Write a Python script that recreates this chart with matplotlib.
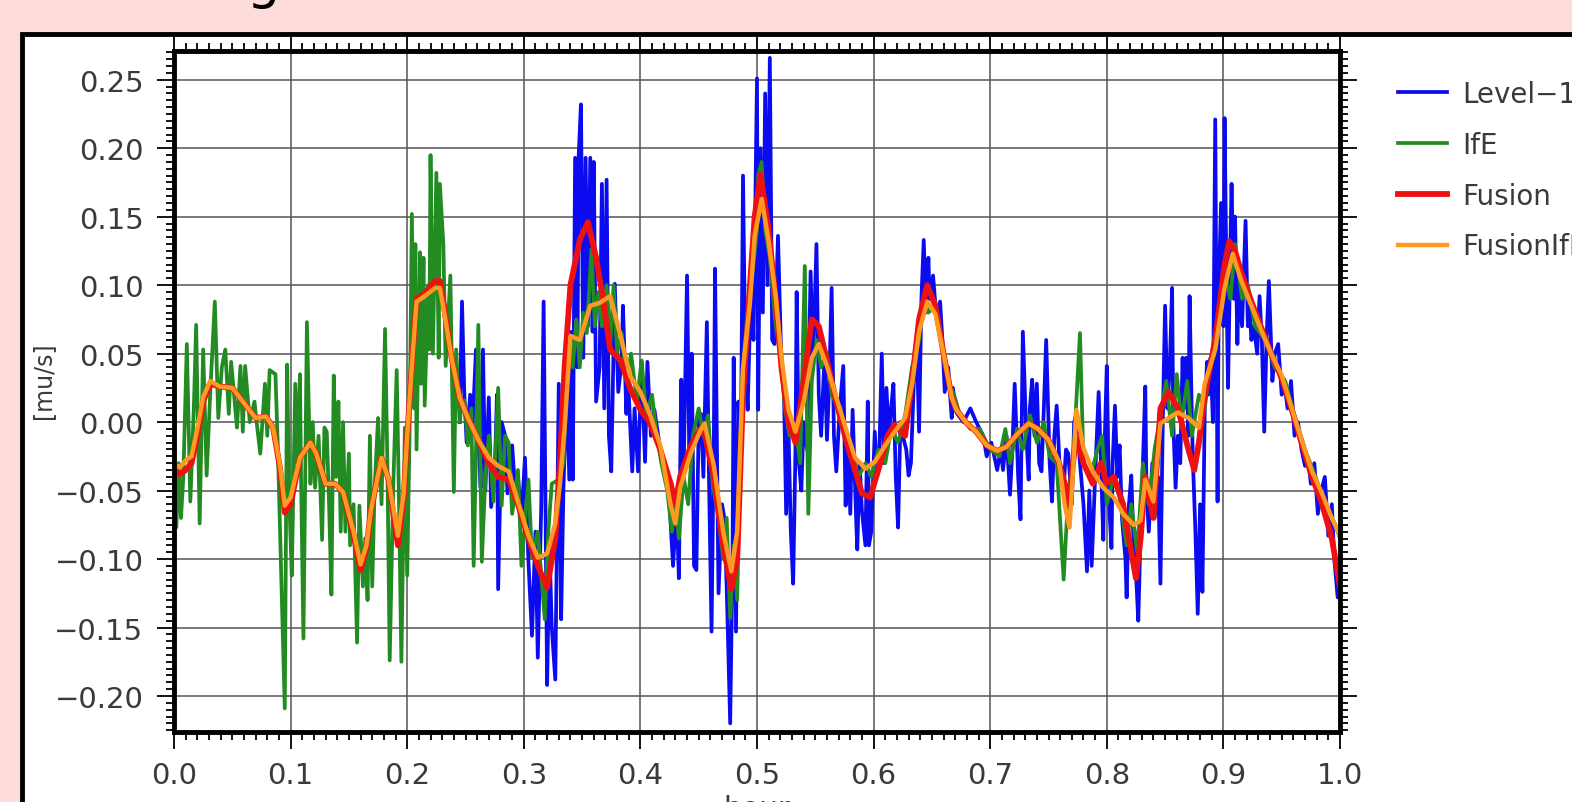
import matplotlib.pyplot as plt
from matplotlib.patches import Rectangle
from matplotlib.ticker import MultipleLocator, FuncFormatter

# IfE (green), noisy
ife_t = [0.000, 0.002, 0.004, 0.006, 0.008, 0.011, 0.014, 0.017, 0.019, 0.022, 0.025, 0.028, 0.031, 0.035,
         0.038, 0.041, 0.044, 0.047, 0.049, 0.054, 0.057, 0.059, 0.061, 0.065, 0.069, 0.071, 0.074, 0.078,
         0.080, 0.082, 0.087, 0.089, 0.091, 0.095, 0.097, 0.099, 0.101, 0.104, 0.106, 0.108, 0.109, 0.111,
         0.114, 0.117, 0.119, 0.121, 0.124, 0.127, 0.129, 0.131, 0.133, 0.135, 0.137, 0.139, 0.141, 0.143,
         0.145, 0.147, 0.150, 0.151, 0.154, 0.157, 0.159, 0.162, 0.164, 0.166, 0.168, 0.170, 0.172, 0.175,
         0.178, 0.181, 0.183, 0.185, 0.188, 0.191, 0.193, 0.195, 0.198, 0.200, 0.202, 0.204, 0.206, 0.207,
         0.208, 0.211, 0.212, 0.214, 0.215, 0.218, 0.219, 0.220, 0.222, 0.225, 0.227, 0.228, 0.231, 0.233,
         0.237, 0.240, 0.242, 0.245, 0.247, 0.249, 0.252, 0.255, 0.257, 0.259, 0.261, 0.264, 0.267, 0.270,
         0.274, 0.278, 0.281, 0.284, 0.287, 0.290, 0.295, 0.298, 0.304, 0.307, 0.312, 0.318, 0.321, 0.324,
         0.330, 0.334, 0.337, 0.340, 0.342, 0.345, 0.348, 0.351, 0.354, 0.358, 0.361, 0.364, 0.367, 0.371,
         0.374, 0.377, 0.380, 0.384, 0.388, 0.392, 0.397, 0.401, 0.405, 0.410, 0.414, 0.418, 0.423, 0.427,
         0.430, 0.433, 0.437, 0.441, 0.445, 0.450, 0.454, 0.458, 0.462, 0.467, 0.471, 0.474, 0.477, 0.480,
         0.483, 0.487, 0.491, 0.495, 0.500, 0.501, 0.504, 0.507, 0.511, 0.516, 0.520, 0.524, 0.528, 0.533,
         0.537, 0.541, 0.544, 0.547, 0.551, 0.555, 0.560, 0.564, 0.570, 0.575, 0.581, 0.587, 0.593, 0.598,
         0.604, 0.610, 0.615, 0.621, 0.627, 0.633, 0.639, 0.643, 0.647, 0.653, 0.658, 0.664, 0.669, 0.674,
         0.683, 0.691, 0.700, 0.708, 0.713, 0.717, 0.723, 0.728, 0.734, 0.740, 0.746, 0.751, 0.757, 0.763,
         0.767, 0.771, 0.777, 0.780, 0.786, 0.792, 0.796, 0.800, 0.806, 0.811, 0.817, 0.821, 0.826, 0.831,
         0.836, 0.841, 0.847, 0.851, 0.856, 0.860, 0.864, 0.869, 0.873, 0.879, 0.884, 0.890, 0.896, 0.901,
         0.906, 0.910, 0.916, 0.921, 0.927, 0.936, 0.944, 0.953, 0.961, 0.970, 0.979, 0.987, 0.996, 1.000]
ife_v = [-0.035, -0.077, -0.030, -0.070, -0.040, 0.057, -0.058, 0.010, 0.071, -0.074, 0.053, -0.039, 0.020, 0.088,
         0.003, 0.040, 0.053, 0.006, 0.044, -0.004, 0.041, -0.007, 0.041, 0.000, 0.015, -0.001, -0.023, 0.028,
         -0.010, 0.038, 0.035, -0.017, -0.080, -0.209, 0.042, -0.060, -0.112, 0.028, -0.030, 0.035, -0.042, -0.158,
         0.073, -0.045, 0.000, -0.048, -0.010, -0.086, -0.004, -0.007, -0.060, -0.126, 0.034, -0.040, 0.015, -0.080,
         0.000, -0.080, -0.023, -0.090, -0.060, -0.161, -0.061, -0.120, -0.085, -0.130, -0.010, -0.120, -0.050, 0.003,
         -0.060, 0.068, -0.030, -0.174, -0.048, 0.038, -0.060, -0.175, -0.004, -0.112, -0.010, 0.152, 0.010, 0.130,
         -0.020, 0.124, 0.028, 0.120, 0.012, 0.100, 0.053, 0.195, 0.050, 0.182, 0.047, 0.174, 0.130, 0.041,
         0.107, -0.051, 0.053, 0.000, 0.015, 0.016, -0.017, 0.010, -0.105, -0.020, 0.071, -0.102, -0.040, -0.010,
         -0.058, 0.025, -0.061, -0.010, -0.015, -0.067, -0.035, -0.105, -0.042, -0.099, -0.080, -0.144, -0.080, -0.045,
         -0.042, -0.030, 0.030, 0.060, 0.040, 0.075, 0.040, 0.080, 0.065, 0.126, 0.070, 0.095, 0.070, 0.100,
         0.055, 0.100, 0.050, 0.065, 0.030, 0.050, 0.015, 0.045, 0.005, 0.020, -0.010, -0.030, -0.050, -0.080,
         -0.060, -0.085, -0.040, -0.060, -0.010, 0.010, -0.010, 0.005, -0.045, -0.070, -0.100, -0.070, -0.143, -0.090,
         -0.130, 0.030, 0.070, 0.100, 0.140, 0.180, 0.190, 0.140, 0.120, 0.070, 0.050, 0.010, -0.010, -0.005,
         -0.030, 0.114, -0.067, 0.030, 0.060, 0.040, 0.050, 0.020, 0.010, -0.010, -0.020, -0.040, -0.030, -0.040,
         -0.020, -0.030, -0.005, -0.015, 0.005, 0.040, 0.060, 0.090, 0.080, 0.085, 0.060, 0.030, 0.020, 0.005,
         -0.005, -0.005, -0.020, -0.025, -0.005, -0.030, -0.005, -0.020, 0.005, -0.015, 0.000, -0.025, -0.030, -0.115,
         -0.050, -0.030, 0.065, -0.030, -0.040, -0.020, -0.010, -0.060, -0.040, -0.055, -0.090, -0.060, -0.095, -0.030,
         -0.060, -0.020, 0.010, 0.030, -0.010, 0.035, 0.000, 0.030, -0.010, 0.020, 0.010, 0.050, 0.080, 0.110,
         0.090, 0.130, 0.090, 0.100, 0.070, 0.060, 0.040, 0.030, 0.005, -0.020, -0.040, -0.060, -0.075, -0.085]

# Level-1 (blue), noisy
lvl_t = [0.245, 0.247, 0.249, 0.251, 0.254, 0.256, 0.259, 0.261, 0.263, 0.265, 0.267, 0.270, 0.272, 0.275,
         0.277, 0.278, 0.281, 0.284, 0.286, 0.290, 0.293, 0.295, 0.298, 0.301, 0.304, 0.307, 0.310, 0.312,
         0.315, 0.317, 0.320, 0.322, 0.324, 0.327, 0.330, 0.332, 0.334, 0.337, 0.339, 0.341, 0.342, 0.344,
         0.346, 0.347, 0.349, 0.351, 0.353, 0.355, 0.357, 0.359, 0.360, 0.362, 0.365, 0.367, 0.369, 0.371,
         0.373, 0.375, 0.378, 0.381, 0.384, 0.385, 0.388, 0.389, 0.393, 0.395, 0.398, 0.401, 0.404, 0.406,
         0.409, 0.412, 0.417, 0.422, 0.425, 0.428, 0.431, 0.433, 0.435, 0.437, 0.440, 0.442, 0.444, 0.446,
         0.448, 0.450, 0.452, 0.454, 0.457, 0.459, 0.461, 0.463, 0.464, 0.467, 0.470, 0.472, 0.474, 0.477,
         0.479, 0.480, 0.482, 0.484, 0.486, 0.488, 0.490, 0.492, 0.495, 0.497, 0.500, 0.501, 0.503, 0.505,
         0.507, 0.509, 0.511, 0.513, 0.515, 0.516, 0.518, 0.521, 0.523, 0.525, 0.527, 0.529, 0.531, 0.533,
         0.534, 0.536, 0.538, 0.540, 0.543, 0.546, 0.548, 0.551, 0.553, 0.555, 0.558, 0.560, 0.562, 0.564,
         0.566, 0.568, 0.571, 0.574, 0.576, 0.578, 0.580, 0.582, 0.585, 0.586, 0.588, 0.590, 0.593, 0.595,
         0.596, 0.598, 0.601, 0.603, 0.605, 0.607, 0.609, 0.611, 0.613, 0.615, 0.617, 0.619, 0.621, 0.623,
         0.625, 0.628, 0.630, 0.632, 0.635, 0.637, 0.639, 0.641, 0.643, 0.645, 0.647, 0.648, 0.651, 0.654,
         0.657, 0.659, 0.661, 0.664, 0.667, 0.668, 0.671, 0.677, 0.683, 0.688, 0.694, 0.697, 0.701, 0.706,
         0.709, 0.711, 0.714, 0.717, 0.719, 0.721, 0.724, 0.726, 0.727, 0.728, 0.731, 0.733, 0.734, 0.736,
         0.738, 0.740, 0.742, 0.744, 0.746, 0.748, 0.751, 0.753, 0.755, 0.757, 0.760, 0.763, 0.765, 0.767,
         0.770, 0.772, 0.774, 0.777, 0.780, 0.783, 0.785, 0.787, 0.790, 0.793, 0.795, 0.797, 0.798, 0.800,
         0.802, 0.804, 0.805, 0.807, 0.809, 0.811, 0.813, 0.816, 0.817, 0.819, 0.821, 0.823, 0.825, 0.827,
         0.829, 0.831, 0.833, 0.834, 0.836, 0.839, 0.841, 0.844, 0.846, 0.848, 0.850, 0.852, 0.854, 0.856,
         0.857, 0.859, 0.861, 0.863, 0.865, 0.866, 0.868, 0.870, 0.871, 0.873, 0.874, 0.876, 0.878, 0.880,
         0.882, 0.884, 0.886, 0.887, 0.889, 0.891, 0.893, 0.895, 0.896, 0.898, 0.900, 0.901, 0.903, 0.904,
         0.906, 0.907, 0.909, 0.910, 0.912, 0.913, 0.916, 0.919, 0.921, 0.922, 0.924, 0.926, 0.929, 0.931,
         0.933, 0.935, 0.937, 0.939, 0.942, 0.944, 0.947, 0.950, 0.952, 0.955, 0.958, 0.961, 0.964, 0.967,
         0.970, 0.973, 0.975, 0.978, 0.981, 0.984, 0.987, 0.990, 0.993, 0.995, 0.998, 1.000]
lvl_v = [0.000, 0.088, 0.020, -0.015, 0.020, -0.004, 0.053, -0.010, -0.048, 0.053, -0.050, 0.018, -0.062, -0.040,
         0.020, -0.122, 0.000, -0.010, -0.052, -0.017, -0.055, -0.040, -0.070, -0.026, -0.102, -0.156, -0.080, -0.172,
         -0.060, 0.088, -0.192, -0.090, -0.150, -0.188, 0.028, -0.144, -0.048, 0.028, -0.042, 0.066, -0.042, 0.193,
         0.040, 0.193, 0.232, 0.047, 0.193, 0.070, 0.193, 0.066, 0.190, 0.015, 0.040, 0.174, 0.010, 0.177,
         -0.010, -0.036, 0.101, 0.022, 0.045, 0.085, 0.006, 0.040, -0.036, 0.010, -0.036, 0.044, -0.029, 0.044,
         -0.010, 0.009, -0.020, -0.036, -0.060, -0.105, -0.060, -0.114, 0.031, -0.040, 0.107, -0.030, 0.050, -0.105,
         -0.108, 0.000, 0.006, -0.040, 0.073, -0.050, -0.153, -0.010, 0.112, -0.125, -0.060, -0.070, -0.120, -0.220,
         -0.100, 0.047, -0.153, 0.015, -0.040, 0.180, 0.040, 0.009, 0.108, 0.060, 0.251, 0.009, 0.200, 0.080,
         0.240, 0.100, 0.266, 0.060, 0.057, 0.080, 0.136, 0.040, 0.030, -0.067, -0.005, -0.080, -0.118, -0.020,
         0.095, -0.030, -0.050, 0.000, -0.020, 0.110, 0.040, 0.130, 0.020, -0.010, 0.050, -0.013, 0.030, 0.098,
         -0.010, -0.036, 0.010, 0.041, -0.061, -0.010, -0.067, 0.009, -0.070, -0.093, -0.030, -0.065, -0.090, 0.015,
         -0.090, -0.080, -0.007, -0.040, -0.020, 0.050, -0.030, 0.025, -0.010, 0.010, 0.028, -0.040, -0.077, 0.000,
         -0.010, -0.020, -0.039, -0.030, 0.040, 0.060, -0.007, 0.090, 0.133, 0.080, 0.120, 0.090, 0.107, 0.075,
         0.088, 0.060, 0.022, 0.040, 0.003, 0.025, 0.007, 0.000, 0.010, 0.000, -0.010, -0.025, -0.015, -0.035,
         -0.020, -0.035, -0.010, -0.053, -0.020, 0.028, -0.040, -0.071, 0.000, 0.066, -0.010, -0.042, 0.010, 0.031,
         -0.010, 0.028, -0.030, -0.036, 0.010, 0.060, -0.030, -0.058, -0.010, 0.012, -0.040, -0.048, -0.020, -0.023,
         -0.060, 0.000, 0.006, -0.030, -0.060, -0.109, -0.050, -0.105, -0.040, 0.022, -0.030, -0.086, -0.020, 0.041,
         -0.060, -0.092, -0.030, 0.012, -0.040, -0.017, -0.070, -0.100, -0.128, -0.060, -0.039, -0.090, -0.110, -0.145,
         -0.080, -0.030, 0.026, -0.050, -0.080, -0.030, -0.070, -0.040, -0.118, 0.000, 0.085, 0.010, 0.040, 0.098,
         0.000, -0.048, -0.010, -0.030, 0.047, 0.010, 0.047, -0.010, 0.092, 0.000, -0.032, -0.080, -0.140, -0.060,
         -0.124, 0.010, 0.044, 0.020, 0.047, 0.000, 0.221, -0.058, 0.100, 0.160, 0.070, 0.222, 0.080, 0.025,
         0.130, 0.174, 0.090, 0.150, 0.057, 0.100, 0.070, 0.147, 0.070, 0.090, 0.060, 0.070, 0.050, 0.092,
         0.060, -0.007, 0.060, 0.103, 0.030, 0.050, 0.057, 0.020, 0.031, 0.010, 0.030, -0.010, 0.000, -0.020,
         -0.032, -0.030, -0.045, -0.030, -0.067, -0.050, -0.040, -0.083, -0.060, -0.099, -0.128, -0.110]

# FusionIfE (orange), smooth
fie_t = [0.000, 0.005, 0.010, 0.015, 0.020, 0.025, 0.031, 0.039, 0.050, 0.059, 0.070, 0.079, 0.085, 0.091,
         0.095, 0.100, 0.108, 0.117, 0.122, 0.130, 0.138, 0.145, 0.154, 0.160, 0.165, 0.169, 0.178, 0.184,
         0.192, 0.197, 0.200, 0.204, 0.208, 0.215, 0.224, 0.228, 0.232, 0.238, 0.245, 0.252, 0.261, 0.270,
         0.278, 0.287, 0.295, 0.304, 0.312, 0.320, 0.327, 0.331, 0.335, 0.340, 0.348, 0.357, 0.365, 0.374,
         0.383, 0.391, 0.400, 0.408, 0.417, 0.426, 0.430, 0.434, 0.443, 0.451, 0.455, 0.463, 0.471, 0.478,
         0.483, 0.488, 0.494, 0.498, 0.504, 0.510, 0.516, 0.521, 0.527, 0.533, 0.540, 0.547, 0.553, 0.560,
         0.568, 0.577, 0.584, 0.593, 0.601, 0.610, 0.618, 0.627, 0.633, 0.639, 0.646, 0.653, 0.660, 0.667,
         0.671, 0.680, 0.688, 0.697, 0.706, 0.714, 0.723, 0.733, 0.741, 0.750, 0.759, 0.764, 0.768, 0.771,
         0.774, 0.780, 0.788, 0.797, 0.806, 0.814, 0.823, 0.829, 0.833, 0.840, 0.846, 0.853, 0.861, 0.870,
         0.879, 0.884, 0.893, 0.901, 0.908, 0.915, 0.924, 0.933, 0.941, 0.950, 0.959, 0.967, 0.976, 0.984,
         0.993, 1.000]
fie_v = [-0.031, -0.033, -0.028, -0.025, -0.005, 0.018, 0.030, 0.026, 0.025, 0.015, 0.003, 0.004, -0.004, -0.032,
         -0.061, -0.055, -0.026, -0.015, -0.023, -0.045, -0.045, -0.051, -0.080, -0.104, -0.090, -0.064, -0.026, -0.042,
         -0.083, -0.052, -0.010, 0.041, 0.088, 0.092, 0.098, 0.098, 0.079, 0.047, 0.018, 0.003, -0.013, -0.026,
         -0.032, -0.036, -0.058, -0.083, -0.099, -0.096, -0.074, -0.045, -0.004, 0.063, 0.060, 0.085, 0.087, 0.092,
         0.063, 0.034, 0.022, 0.006, -0.017, -0.061, -0.074, -0.048, -0.023, -0.007, -0.001, -0.032, -0.080, -0.109,
         -0.080, 0.039, 0.088, 0.136, 0.163, 0.132, 0.092, 0.047, 0.009, -0.007, 0.015, 0.047, 0.057, 0.041,
         0.018, -0.007, -0.026, -0.034, -0.029, -0.017, -0.007, 0.003, 0.028, 0.066, 0.088, 0.079, 0.050, 0.018,
         0.009, -0.001, -0.007, -0.017, -0.021, -0.018, -0.009, -0.001, -0.005, -0.013, -0.029, -0.061, -0.077, -0.036,
         0.009, -0.019, -0.036, -0.048, -0.055, -0.067, -0.075, -0.072, -0.042, -0.058, -0.001, 0.003, 0.007, 0.003,
         -0.004, 0.028, 0.053, 0.098, 0.123, 0.104, 0.085, 0.066, 0.050, 0.034, 0.009, -0.013, -0.036, -0.051,
         -0.070, -0.083]

# Fusion (red), smooth
fus_t = [0.000, 0.005, 0.010, 0.015, 0.020, 0.025, 0.031, 0.039, 0.050, 0.059, 0.070, 0.079, 0.085, 0.091,
         0.095, 0.100, 0.108, 0.117, 0.122, 0.130, 0.138, 0.145, 0.154, 0.160, 0.165, 0.169, 0.178, 0.184,
         0.192, 0.197, 0.200, 0.204, 0.208, 0.215, 0.224, 0.228, 0.232, 0.238, 0.245, 0.252, 0.261, 0.270,
         0.278, 0.287, 0.295, 0.304, 0.312, 0.320, 0.327, 0.331, 0.335, 0.340, 0.348, 0.355, 0.362, 0.368,
         0.374, 0.383, 0.391, 0.400, 0.408, 0.417, 0.426, 0.430, 0.434, 0.443, 0.451, 0.455, 0.463, 0.471,
         0.478, 0.483, 0.488, 0.494, 0.498, 0.503, 0.510, 0.516, 0.521, 0.527, 0.533, 0.540, 0.547, 0.553,
         0.560, 0.568, 0.577, 0.584, 0.590, 0.597, 0.604, 0.612, 0.618, 0.627, 0.633, 0.639, 0.646, 0.653,
         0.660, 0.667, 0.671, 0.680, 0.688, 0.697, 0.706, 0.714, 0.723, 0.733, 0.741, 0.750, 0.759, 0.764,
         0.768, 0.771, 0.774, 0.780, 0.788, 0.795, 0.800, 0.806, 0.814, 0.820, 0.825, 0.829, 0.833, 0.840,
         0.846, 0.853, 0.861, 0.870, 0.875, 0.879, 0.884, 0.893, 0.901, 0.905, 0.910, 0.915, 0.924, 0.933,
         0.941, 0.950, 0.959, 0.967, 0.976, 0.984, 0.993, 1.000]
fus_v = [-0.035, -0.038, -0.035, -0.030, -0.010, 0.015, 0.028, 0.026, 0.025, 0.015, 0.003, 0.004, -0.004, -0.034,
         -0.066, -0.060, -0.026, -0.015, -0.023, -0.045, -0.045, -0.051, -0.082, -0.108, -0.092, -0.064, -0.026, -0.042,
         -0.090, -0.055, -0.010, 0.041, 0.090, 0.094, 0.103, 0.103, 0.082, 0.047, 0.018, 0.003, -0.013, -0.030,
         -0.040, -0.042, -0.060, -0.085, -0.105, -0.121, -0.085, -0.030, 0.040, 0.100, 0.133, 0.146, 0.120, 0.090,
         0.053, 0.045, 0.025, 0.009, 0.000, -0.020, -0.045, -0.060, -0.040, -0.018, -0.005, -0.008, -0.040, -0.090,
         -0.122, -0.100, 0.020, 0.100, 0.150, 0.181, 0.140, 0.090, 0.040, 0.000, -0.015, 0.030, 0.075, 0.070,
         0.045, 0.015, -0.015, -0.035, -0.052, -0.055, -0.035, -0.010, -0.002, -0.010, 0.030, 0.075, 0.100, 0.085,
         0.050, 0.018, 0.009, -0.001, -0.007, -0.017, -0.021, -0.018, -0.009, -0.001, -0.005, -0.013, -0.030, -0.045,
         -0.060, -0.030, -0.010, -0.030, -0.045, -0.030, -0.045, -0.040, -0.060, -0.090, -0.114, -0.085, -0.040, -0.070,
         0.010, 0.022, 0.010, -0.020, -0.035, -0.015, 0.020, 0.060, 0.115, 0.132, 0.125, 0.110, 0.088, 0.068,
         0.050, 0.032, 0.008, -0.015, -0.040, -0.058, -0.085, -0.120]

tick_color = '#3a3a3a'

fig = plt.figure(figsize=(15.72, 8.03), dpi=100, facecolor='#ffdcdc')

# white screenshot panel with black border, kept behind the axes
panel = Rectangle((22 / 1572, -0.05), 1.1, 1 - 35 / 803 + 0.05, transform=fig.transFigure,
                  facecolor='white', edgecolor='black', linewidth=3.5, zorder=-10)
fig.add_artist(panel)
# descender of the cut-off slide title
fig.text(263 / 1572, 1 + 2 / 803, 'g', fontsize=38, ha='center', va='baseline', color='black')

ax = fig.add_axes([174 / 1572, 1 - 733 / 803, 1166 / 1572, 681 / 803])
ax.set_zorder(1)
ax.plot(lvl_t, lvl_v, color='#0b0bef', lw=2.7, label='Level\u22121')
ax.plot(ife_t, ife_v, color='#228b22', lw=2.7, label='IfE')
ax.plot(fus_t, fus_v, color='#ee1111', lw=4.2, label='Fusion')
ax.plot(fie_t, fie_v, color='#ff9922', lw=3.2, label='FusionIfE')

ax.set_xlim(0, 1)
ax.set_ylim(-0.2263, 0.271)
ax.xaxis.set_major_locator(MultipleLocator(0.1))
ax.xaxis.set_minor_locator(MultipleLocator(0.01))
ax.yaxis.set_major_locator(MultipleLocator(0.05))
ax.yaxis.set_minor_locator(MultipleLocator(0.005))
ax.xaxis.set_major_formatter(FuncFormatter(lambda v, p: f'{round(v, 3):.1f}'))
ax.yaxis.set_major_formatter(FuncFormatter(lambda v, p: f'{round(v, 3) + 0.0:.2f}'.replace('-', '\u2212')))
ax.grid(True, which='major', color='#555555', lw=1.1)
ax.set_axisbelow(True)
for s in ax.spines.values():
    s.set_linewidth(3.5)
ax.tick_params(which='both', direction='out', top=True, right=True, width=1.3, colors='black',
               labelcolor=tick_color, labelsize=21)
ax.tick_params(which='major', length=12)
ax.tick_params(which='minor', length=6)
ax.tick_params(axis='x', which='major', pad=9)
ax.tick_params(axis='y', which='major', pad=10)

ax.set_ylabel('[mu/s]', fontsize=17, color=tick_color)
ax.yaxis.set_label_coords(-0.102, 0.517)
ax.set_xlabel('hour', fontsize=21, color=tick_color)
ax.xaxis.set_label_coords(0.5, -0.091)

ax.legend(loc='upper left', bbox_to_anchor=(1398 / 1572, 1 - 81 / 803), bbox_transform=fig.transFigure,
          frameon=False, fontsize=20, handlelength=1.76, handletextpad=0.54, labelspacing=0.82,
          borderpad=0, borderaxespad=0, labelcolor=tick_color)

fig.savefig('out.png', dpi=100, facecolor=fig.get_facecolor())
